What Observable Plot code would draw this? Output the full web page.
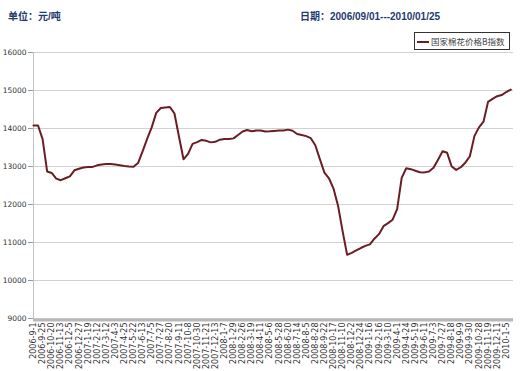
<!DOCTYPE html>
<html>
<head>
<meta charset="utf-8">
<script src="https://cdn.jsdelivr.net/npm/d3@7"></script>
<script src="https://cdn.jsdelivr.net/npm/@observablehq/plot@0.6"></script>
<style>
  html, body { margin: 0; padding: 0; background: #fff; }
  #wrap { position: relative; width: 520px; height: 371px; overflow: hidden; }
  .hdr { position: absolute; font-family: "Liberation Sans", "Noto Sans CJK SC", sans-serif; font-weight: bold; font-size: 10px; color: #1f3a6e; white-space: nowrap; }
  #legend { position: absolute; left: 414px; top: 32px; width: 96px; height: 18px; border: 1px solid #333; box-sizing: border-box; background: #fff;
            font-family: "Noto Sans CJK SC", sans-serif; font-size: 8.5px; color: #444; line-height: 16px; white-space: nowrap; }
  #legend .sw { display: inline-block; width: 12px; height: 2px; background: #6a1e24; vertical-align: middle; margin: 0 2px 0 2px; position: relative; top: -1px; }
</style>
</head>
<body>
<div id="wrap">
  <div id="chart"></div>
  <div class="hdr" style="left:8px; top:8px;">单位：元/吨</div>
  <div class="hdr" style="left:300px; top:8px;">日期：2006/09/01---2010/01/25</div>
  <div id="legend"><span class="sw"></span>国家棉花价格B指数</div>
</div>
<script>
// x-axis tick labels (one every 16 trading days)
const labels = [
  "2006-9-1","2006-9-25","2006-10-20","2006-11-13","2006-12-5","2006-12-27",
  "2007-1-19","2007-2-12","2007-3-12","2007-4-3","2007-4-25","2007-5-22",
  "2007-6-13","2007-7-5","2007-7-27","2007-8-20","2007-9-11","2007-10-8",
  "2007-10-30","2007-11-21","2007-12-13","2008-1-7","2008-1-29","2008-2-26",
  "2008-3-19","2008-4-11","2008-5-6","2008-5-28","2008-6-20","2008-7-14",
  "2008-8-5","2008-8-28","2008-9-22","2008-10-17","2008-11-10","2008-12-2",
  "2008-12-24","2009-1-16","2009-2-16","2009-3-10","2009-4-1","2009-4-24",
  "2009-5-19","2009-6-11","2009-7-3","2009-7-27","2009-8-18","2009-9-9",
  "2009-9-30","2009-10-28","2009-11-19","2009-12-11","2010-1-5"
];

// 国家棉花价格B指数, sampled every half label interval (8 trading days)
const values = [
  14080,14080,13720,12870,12830,12680,12640,12690,12740,12900,
  12940,12975,12985,12990,13030,13050,13065,13065,13055,13035,
  13015,13000,12995,13090,13400,13725,14030,14410,14540,14555,
  14565,14400,13790,13190,13330,13595,13640,13700,13675,13635,
  13650,13705,13725,13725,13740,13830,13920,13960,13930,13945,
  13945,13920,13925,13935,13945,13945,13970,13940,13855,13830,
  13800,13745,13560,13195,12840,12690,12420,11970,11300,10675,
  10725,10790,10855,10910,10950,11100,11220,11430,11510,11600,
  11880,12700,12955,12930,12890,12850,12845,12870,12965,13180,
  13400,13360,13000,12910,12980,13100,13270,13800,14030,14180,
  14700,14780,14850,14880,14960,15025
];

const yTicks = [9000,10000,11000,12000,13000,14000,15000,16000];
const seriesName = "国家棉花价格B指数";

const data = values.map((v, i) => ({pos: i / 2, value: v}));
const tickIdx = labels.map((_, i) => i);

const chart = Plot.plot({
  width: 520,
  height: 371,
  marginTop: 52,
  marginBottom: 53,
  marginLeft: 33,
  marginRight: 7,
  style: {fontFamily: "DejaVu Sans, sans-serif", background: "transparent"},
  x: {domain: [0, 52.8], axis: null},
  y: {domain: [9000, 16000], axis: null},
  marks: [
    Plot.gridY(yTicks, {stroke: "#d2d2d2", strokeOpacity: 1}),
    Plot.ruleX([0], {stroke: "#c4c4c4", strokeOpacity: 1}),
    Plot.axisY({ticks: yTicks, tickSize: 5, tickPadding: 2, tickFormat: d => String(d),
                fontSize: 7.5, stroke: "#999", color: "#333", label: null}),
    Plot.ruleY([9000], {stroke: "#b8b8b8", strokeWidth: 3, dy: 1.5}),
    Plot.axisX({ticks: tickIdx, tickFormat: i => labels[i], tickRotate: -90,
                tickSize: 0, tickPadding: 4, fontSize: 8, color: "#333", label: null}),
    Plot.line(data, {x: "pos", y: "value", stroke: "#6a1e24", strokeWidth: 2, title: () => seriesName})
  ]
});
document.getElementById("chart").appendChild(chart);
</script>
</body>
</html>
